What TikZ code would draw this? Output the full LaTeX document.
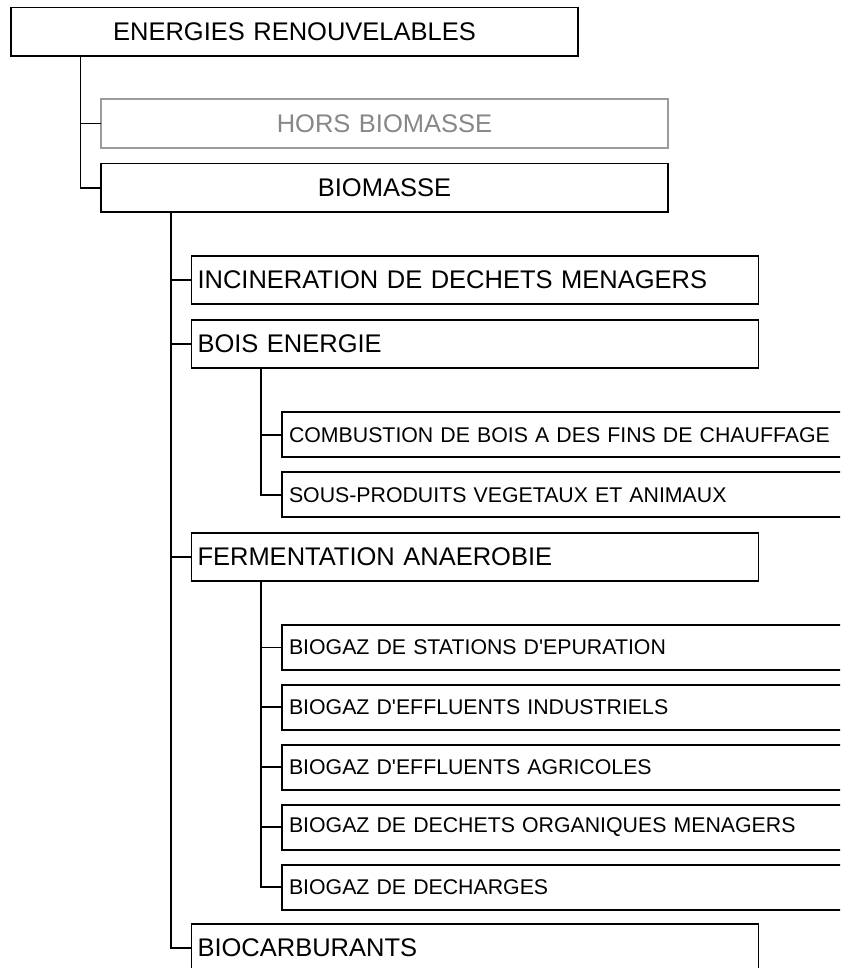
\documentclass[tikz,border=0pt]{standalone}
\usepackage{fontspec}
\setmainfont{Liberation Sans}[Ligatures=TeXOff]
\definecolor{grisbord}{RGB}{155,155,155}
\definecolor{gristexte}{RGB}{135,135,135}
\begin{document}
\begin{tikzpicture}[x=1pt,y=-1pt,
  boite/.style={draw, line width=1.8pt, outer sep=0pt, anchor=west,
    inner xsep=6pt, inner ysep=0pt, text width=555pt, align=left,
    minimum height=48.5pt, font=\fontsize{25.5}{30}\selectfont},
  petite/.style={boite, minimum height=45pt, inner xsep=7pt, text width=553pt,
    font=\fontsize{21.3}{25}\selectfont},
  lien/.style={line width=1.8pt}]
	\clip (0,0) rectangle (840,968);
	% niveau 1
	\node[boite, align=center] (racine) at (11,31.7) {ENERGIES RENOUVELABLES};
	\node[boite, align=center, draw=grisbord, text=gristexte] (hors) at (101,123.5) {HORS BIOMASSE};
	\node[boite, align=center] (bio) at (101,187.7) {BIOMASSE};
	% niveau 2
	\node[boite] (incin) at (191.5,280) {INCINERATION DE DECHETS MENAGERS};
	\node[boite] (bois) at (191.5,344) {BOIS ENERGIE};
	\node[boite] (ferm) at (191.5,557) {FERMENTATION ANAEROBIE};
	\node[boite] (carbu) at (191.5,948) {BIOCARBURANTS};
	% niveau 3
	\node[petite] (combu) at (282,434.8) {COMBUSTION DE BOIS A DES FINS DE CHAUFFAGE};
	\node[petite] (sous) at (282,494.8) {SOUS-PRODUITS VEGETAUX ET ANIMAUX};
	\node[petite] (step) at (282,647.5) {BIOGAZ DE STATIONS D'EPURATION};
	\node[petite] (indus) at (282,707.3) {BIOGAZ D'EFFLUENTS INDUSTRIELS};
	\node[petite] (agri) at (282,767.3) {BIOGAZ D'EFFLUENTS AGRICOLES};
	\node[petite] (menag) at (282,827.3) {BIOGAZ DE DECHETS ORGANIQUES MENAGERS};
	\node[petite] (decha) at (282,887.3) {BIOGAZ DE DECHARGES};
	% liens
	\draw[lien] ([xshift=69.5pt]racine.south west) |- (hors.west);
	\draw[lien] ([xshift=69.5pt]racine.south west) |- (bio.west);
	\foreach \n in {incin,bois,ferm,carbu}
		\draw[lien] ([xshift=70pt]bio.south west) |- (\n.west);
	\foreach \n in {combu,sous}
		\draw[lien] ([xshift=69.5pt]bois.south west) |- (\n.west);
	\foreach \n in {step,indus,agri,menag,decha}
		\draw[lien] ([xshift=69.5pt]ferm.south west) |- (\n.west);
\end{tikzpicture}
\end{document}
